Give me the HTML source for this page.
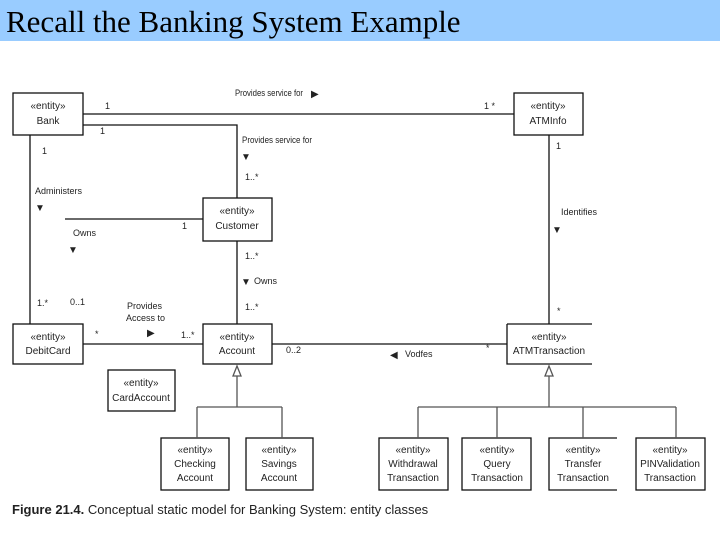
<!DOCTYPE html>
<html><head><meta charset="utf-8"><style>
html,body{margin:0;padding:0;background:#fff;width:720px;height:540px;overflow:hidden}
.bar{position:absolute;left:0;top:0;width:720px;height:41px;background:#99ccff}
.title{position:absolute;left:6px;top:4px;font:31px "Liberation Serif",serif;color:#000;white-space:nowrap}
svg{position:absolute;left:0;top:0}
</style></head><body>
<div class="bar"></div>
<div class="title">Recall the Banking System Example</div>
<svg width="720" height="540" font-family="Liberation Sans, sans-serif">
<g fill="none" stroke="#111" stroke-width="1.3">
<rect x="13" y="93" width="70" height="42"/>
<rect x="514" y="93" width="69" height="42"/>
<rect x="203" y="198" width="69" height="43"/>
<rect x="13" y="324" width="70" height="40"/>
<rect x="203" y="324" width="69" height="40"/>
<path d="M507 324 H592 M507 324 V364 H592"/>
<rect x="108" y="370" width="67" height="41"/>
<rect x="161" y="438" width="68" height="52"/>
<rect x="246" y="438" width="67" height="52"/>
<rect x="379" y="438" width="69" height="52"/>
<rect x="462" y="438" width="69" height="52"/>
<path d="M617 438 H549 V490 H617"/>
<rect x="636" y="438" width="69" height="52"/>
<path d="M83 114 H514"/>
<path d="M83 125 H237 V198"/>
<path d="M30 135 V324"/>
<path d="M65 219 H203"/>
<path d="M237 241 V324"/>
<path d="M83 344 H203"/>
<path d="M272 344 H507"/>
<path d="M549 135 V324"/>
</g>
<g fill="none" stroke="#555" stroke-width="1.3">
<path d="M233 376 L237 366 L241 376 Z"/>
<path d="M237 376 V407 M197 407 H282 M197 407 V438 M282 407 V438"/>
<path d="M545 376 L549 366 L553 376 Z"/>
<path d="M549 376 V407 M418 407 H676 M418 407 V438 M497 407 V438 M583 407 V438 M676 407 V438"/>
</g>
<g font-size="9" fill="#222">
<text x="235" y="96" textLength="68" lengthAdjust="spacingAndGlyphs">Provides service for</text><text x="311" y="97" font-size="10">▶</text>
<text x="105" y="109">1</text><text x="484" y="109">1 *</text>
<text x="100" y="134">1</text>
<text x="242" y="143" textLength="70" lengthAdjust="spacingAndGlyphs">Provides service for</text><text x="241" y="160" font-size="10">▼</text>
<text x="245" y="180">1..*</text>
<text x="42" y="154">1</text>
<text x="35" y="194">Administers</text><text x="35" y="211" font-size="10">▼</text>
<text x="73" y="236">Owns</text><text x="68" y="253" font-size="10">▼</text>
<text x="182" y="229">1</text>
<text x="245" y="259">1..*</text><text x="241" y="285" font-size="10">▼</text><text x="254" y="284">Owns</text>
<text x="245" y="310">1..*</text>
<text x="37" y="306">1.*</text><text x="70" y="305">0..1</text>
<text x="127" y="309">Provides</text><text x="126" y="321">Access to</text>
<text x="147" y="336" font-size="10">▶</text>
<text x="95" y="337">*</text><text x="181" y="338">1..*</text>
<text x="286" y="353">0..2</text>
<text x="390" y="358" font-size="10">◀</text><text x="405" y="357">Vodfes</text>
<text x="486" y="351">*</text>
<text x="556" y="149">1</text>
<text x="561" y="215">Identifies</text><text x="552" y="233" font-size="10">▼</text>
<text x="557" y="314">*</text>
</g>
<g font-size="10" fill="#222" text-anchor="middle">
<text x="48" y="109">«entity»</text><text x="48" y="124">Bank</text>
<text x="548" y="109">«entity»</text><text x="548" y="124">ATMInfo</text>
<text x="237" y="214">«entity»</text><text x="237" y="229">Customer</text>
<text x="48" y="340">«entity»</text><text x="48" y="354">DebitCard</text>
<text x="237" y="340">«entity»</text><text x="237" y="354">Account</text>
<text x="549" y="340">«entity»</text><text x="549" y="354">ATMTransaction</text>
<text x="141" y="386">«entity»</text><text x="141" y="401">CardAccount</text>
<text x="195" y="453">«entity»</text><text x="195" y="467">Checking</text><text x="195" y="481">Account</text>
<text x="279" y="453">«entity»</text><text x="279" y="467">Savings</text><text x="279" y="481">Account</text>
<text x="413" y="453">«entity»</text><text x="413" y="467">Withdrawal</text><text x="413" y="481">Transaction</text>
<text x="497" y="453">«entity»</text><text x="497" y="467">Query</text><text x="497" y="481">Transaction</text>
<text x="583" y="453">«entity»</text><text x="583" y="467">Transfer</text><text x="583" y="481">Transaction</text>
<text x="670" y="453">«entity»</text><text x="670" y="467">PINValidation</text><text x="670" y="481">Transaction</text>
</g>
<text x="12" y="514" font-size="13" fill="#222"><tspan font-weight="bold">Figure 21.4.</tspan> Conceptual static model for Banking System: entity classes</text>
</svg>
</body></html>
